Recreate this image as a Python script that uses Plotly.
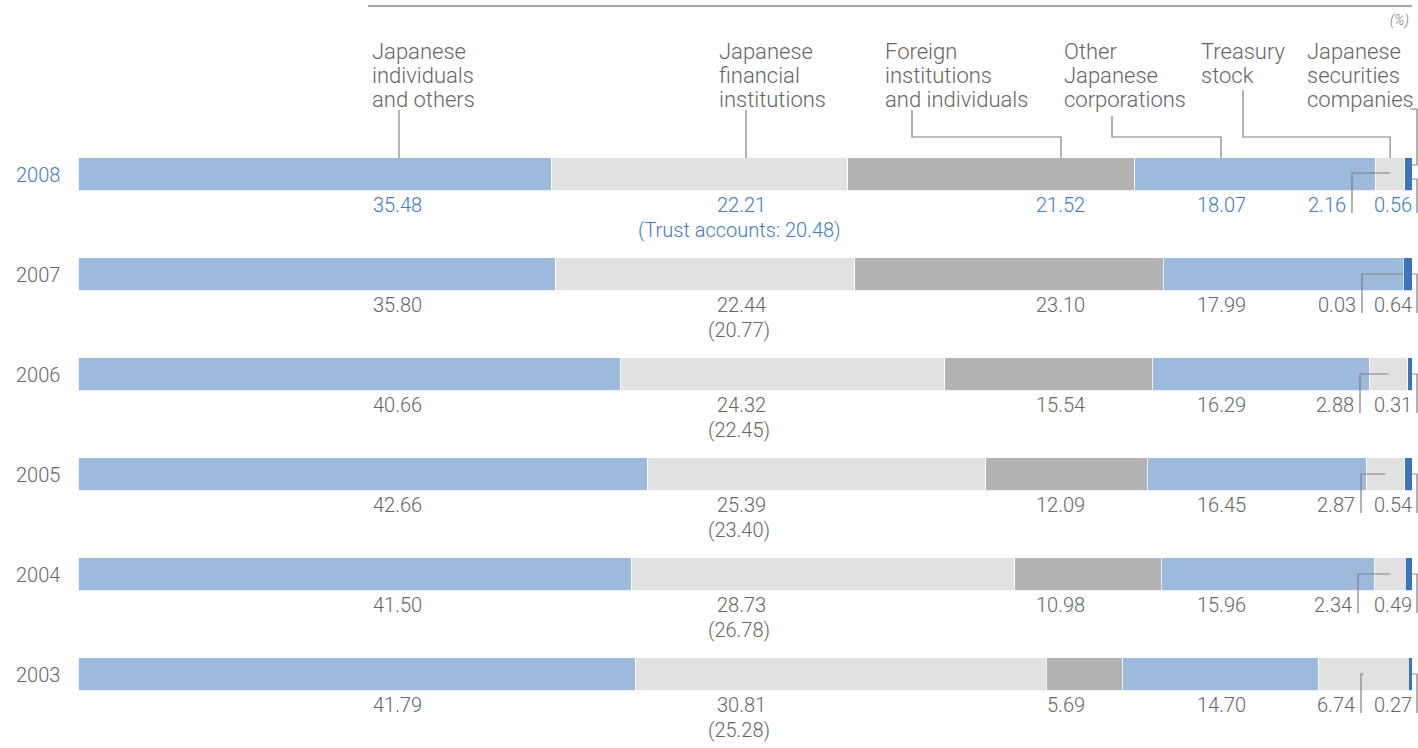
import plotly.graph_objects as go

# ---------------- data ----------------
years = ["2008", "2007", "2006", "2005", "2004", "2003"]
individuals = [35.48, 35.80, 40.66, 42.66, 41.50, 41.79]
financial = [22.21, 22.44, 24.32, 25.39, 28.73, 30.81]
trust_accounts = [20.48, 20.77, 22.45, 23.40, 26.78, 25.28]
foreign = [21.52, 23.10, 15.54, 12.09, 10.98, 5.69]
other_corp = [18.07, 17.99, 16.29, 16.45, 15.96, 14.70]
treasury = [2.16, 0.03, 2.88, 2.87, 2.34, 6.74]
securities = [0.56, 0.64, 0.31, 0.54, 0.49, 0.27]

categories = [
    "Japanese individuals and others",
    "Japanese financial institutions",
    "Foreign institutions and individuals",
    "Other Japanese corporations",
    "Treasury stock",
    "Japanese securities companies",
]
header_lines = [
    ["Japanese", "individuals", "and others"],
    ["Japanese", "financial", "institutions"],
    ["Foreign", "institutions", "and individuals"],
    ["Other", "Japanese", "corporations"],
    ["Treasury", "stock"],
    ["Japanese", "securities", "companies"],
]

# ---------------- styles ----------------
C_LBLUE = "#9db9dc"
C_LGRAY = "#e1e1e1"
C_MGRAY = "#b3b3b3"
C_DBLUE = "#3b74bb"
C_TEXT = "#666666"
C_BLUE_TXT = "#3d7bc6"
C_LINE = "#808080"
FONT = "Roboto"

W, H = 1418, 748
X0, PXU = 78.0, 13.34        # pixel of 0 %, pixels per 1 %
ROW0, ROWH = 174.0, 100.0    # pixel of first row centre, row pitch


def px_x(px):
    return (px - X0) / PXU


def px_y(py):
    return (py - ROW0) / ROWH


def to_px(v):
    return X0 + v * PXU


rows = list(range(len(years)))
series = [individuals, financial, foreign, other_corp, treasury, securities]
colors = [C_LBLUE, C_LGRAY, C_MGRAY, C_LBLUE, C_LGRAY, C_DBLUE]

fig = go.Figure()
for name, vals, col in zip(categories, series, colors):
    fig.add_trace(go.Bar(
        y=rows, x=vals, orientation="h", name=name, width=0.33,
        marker=dict(color=col, line=dict(color="white", width=0.8)),
        hovertemplate="%{x:.2f}%<extra>" + name + "</extra>",
    ))

ann = []
shapes = []


def text(x_px, y_px, s, anchor="left", size=20, color=C_TEXT, **kw):
    ann.append(dict(x=px_x(x_px), y=px_y(y_px), xref="x", yref="y", text=s,
                    showarrow=False, xanchor=anchor, yanchor="middle",
                    font=dict(family=FONT, size=size, color=color, weight=300),
                    **kw))


def path(points, color=C_LINE, width=1.2):
    d = "M " + " L ".join(f"{px_x(a):.4f},{px_y(b):.4f}" for a, b in points)
    shapes.append(dict(type="path", path=d, xref="x", yref="y",
                       line=dict(color=color, width=width)))


# top rule and unit
path([(368, 6), (1412, 6)], color="#a8a8a8", width=2)
text(1411, 20, "<i>(%)</i>", anchor="right", size=14, color="#777777")

# header labels
header_x = [370, 717, 883, 1062, 1199, 1305]
line_y = [51, 75, 99]
for hx, lines in zip(header_x, header_lines):
    for ly, s in zip(line_y, lines):
        text(hx, ly, s, size=22)

# cumulative positions
cum = []
for r in rows:
    acc, c = 0.0, []
    for s in series:
        c.append(acc)
        acc += s[r]
    cum.append(c)

bar_end = to_px(sum(s[0] for s in series))
tre_mid = [to_px(cum[r][4] + treasury[r] / 2) for r in rows]

# header leaders (to the 2008 bar)
top = ROW0 - 16
path([(399, 110), (399, top)])
path([(746, 110), (746, top)])
path([(912, 110), (912, 137), (1061, 137), (1061, top)])
path([(1112, 116), (1112, 137), (1221, 137), (1221, top)])
path([(1243, 90), (1243, 137), (tre_mid[0], 137), (tre_mid[0], top)])
path([(1410, 109), (1417, 109), (1417, 165), (bar_end, 165)])

# per-row labels
col5_leader = [1352, 1362, 1360, 1361, 1358, 1361]
for r in rows:
    yc = ROW0 + r * ROWH
    col = C_BLUE_TXT if r == 0 else C_TEXT
    text(62, yc + 1, years[r], anchor="right", size=20, color=col)
    ly = yc + 31
    text(397, ly, f"{individuals[r]:.2f}", anchor="center", color=col)
    text(741, ly, f"{financial[r]:.2f}", anchor="center", color=col)
    sub = (f"(Trust accounts: {trust_accounts[r]:.2f})" if r == 0
           else f"({trust_accounts[r]:.2f})")
    text(739, yc + 56, sub, anchor="center", color=col)
    text(1087, ly, f"{foreign[r]:.2f}", anchor="right", color=col)
    text(1221, ly, f"{other_corp[r]:.2f}", anchor="center", color=col)
    lx = col5_leader[r]
    text(lx - 4, ly, f"{treasury[r]:.2f}", anchor="right", color=col)
    text(1414, ly, f"{securities[r]:.2f}", anchor="right", color=col)
    # leaders
    ty = yc - 1 if r == 0 else yc
    path([(lx, yc + 39), (lx, ty), (tre_mid[r], ty)])
    sy = yc + 5 if r == 0 else yc
    path([(bar_end, sy), (1417, sy), (1417, yc + 39)])

fig.update_layout(
    width=W, height=H, autosize=False,
    margin=dict(l=0, r=0, t=0, b=0),
    paper_bgcolor="white", plot_bgcolor="white",
    barmode="stack", showlegend=False,
    xaxis=dict(range=[px_x(0), px_x(W)], visible=False, fixedrange=True),
    yaxis=dict(range=[px_y(H), px_y(0)], visible=False, fixedrange=True),
    annotations=ann, shapes=shapes,
    font=dict(family=FONT, color=C_TEXT),
)

fig.write_html(
    "out.html",
    config={"displayModeBar": False},
    post_script="document.body.style.margin='0';"
                "document.body.style.overflow='hidden';",
)
